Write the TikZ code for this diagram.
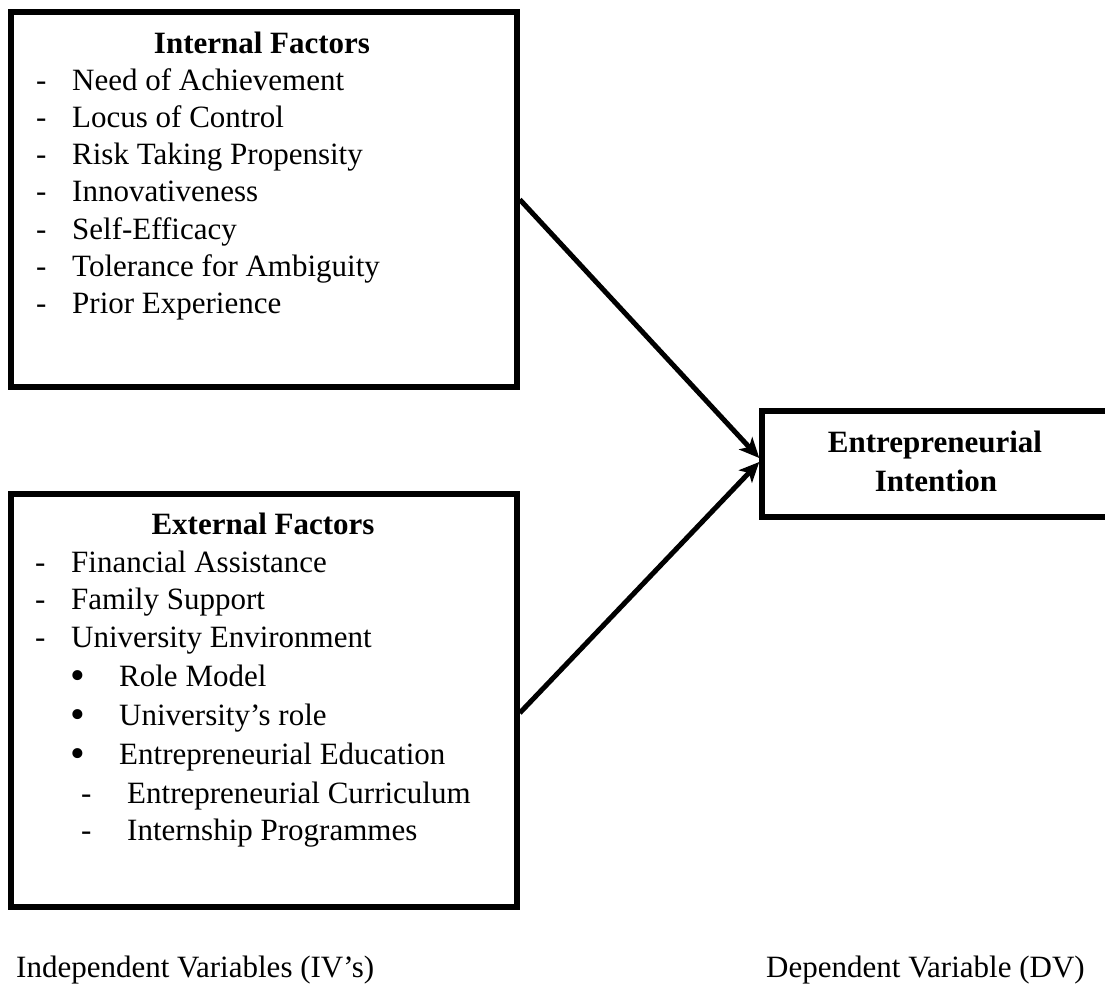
\documentclass[tikz,border=0pt]{standalone}
\usepackage{fontspec}
\setmainfont{Liberation Serif}
\usetikzlibrary{arrows.meta}
\begin{document}
\begin{tikzpicture}[x=1pt,y=-1pt,
  box/.style={draw, line width=5.5pt, inner sep=0pt},
  txt/.style={font=\fontsize{31}{37}\selectfont, anchor=base west, inner sep=0pt},
  bul/.style={font=\fontsize{42}{42}\selectfont, anchor=base west, inner sep=0pt},
  hd/.style={font=\fontsize{31}{37}\selectfont\bfseries, anchor=base, inner sep=0pt},
  conn/.style={line width=5pt, -{Stealth[length=20pt,width=18pt,inset=5pt]}}]
\useasboundingbox (0,0) rectangle (1105,987);

% boxes
\node[box, minimum width=506pt, minimum height=375pt] (int) at (264,199.5) {};
\node[box, minimum width=506pt, minimum height=413pt] (ext) at (264,700.5) {};
\node[box, minimum width=350pt, minimum height=106pt] (ei) at (937,464) {};

% internal factors
\node[hd] (inth) at (262,54) {Internal Factors};
\node[txt] (d1) at (36,91) {-};  \node[txt] (i1) at (72,91) {Need of Achievement};
\node[txt] (d2) at (36,128) {-}; \node[txt] (i2) at (72,128) {Locus of Control};
\node[txt] (d3) at (36,165) {-}; \node[txt] (i3) at (72,165) {Risk Taking Propensity};
\node[txt] (d4) at (36,202) {-}; \node[txt] (i4) at (72,202) {Innovativeness};
\node[txt] (d5) at (36,239) {-}; \node[txt] (i5) at (72,239) {Self-Efficacy};
\node[txt] (d6) at (36,276) {-}; \node[txt] (i6) at (72,276) {Tolerance for Ambiguity};
\node[txt] (d7) at (36,313) {-}; \node[txt] (i7) at (72,313) {Prior Experience};

% external factors
\node[hd] (exth) at (263,534) {External Factors};
\node[txt] (e1d) at (35,572) {-}; \node[txt] (e1) at (71,572) {Financial Assistance};
\node[txt] (e2d) at (35,609) {-}; \node[txt] (e2) at (71,609) {Family Support};
\node[txt] (e3d) at (35,647) {-}; \node[txt] (e3) at (71,647) {University Environment};
\node[bul] (b1d) at (70,689) {•}; \node[txt] (b1) at (119,686) {Role Model};
\node[bul] (b2d) at (70,728) {•}; \node[txt] (b2) at (119,725) {University’s role};
\node[bul] (b3d) at (70,767) {•}; \node[txt] (b3) at (119,764) {Entrepreneurial Education};
\node[txt] (s1d) at (81,803) {-}; \node[txt] (s1) at (127,803) {Entrepreneurial Curriculum};
\node[txt] (s2d) at (81,840) {-}; \node[txt] (s2) at (127,840) {Internship Programmes};

% dependent variable
\node[hd] (eit1) at (935,452) {Entrepreneurial};
\node[hd] (eit2) at (936,491) {Intention};

% captions
\node[txt] (iv) at (16,977) {Independent Variables (IV’s)};
\node[txt] (dv) at (766,977) {Dependent Variable (DV)};

% connectors
\draw[conn] (int.east) -- ([yshift=6pt]ei.west);
\draw[conn] ([yshift=-12.5pt]ext.east) -- ([yshift=2pt]ei.west);
\end{tikzpicture}
\end{document}
